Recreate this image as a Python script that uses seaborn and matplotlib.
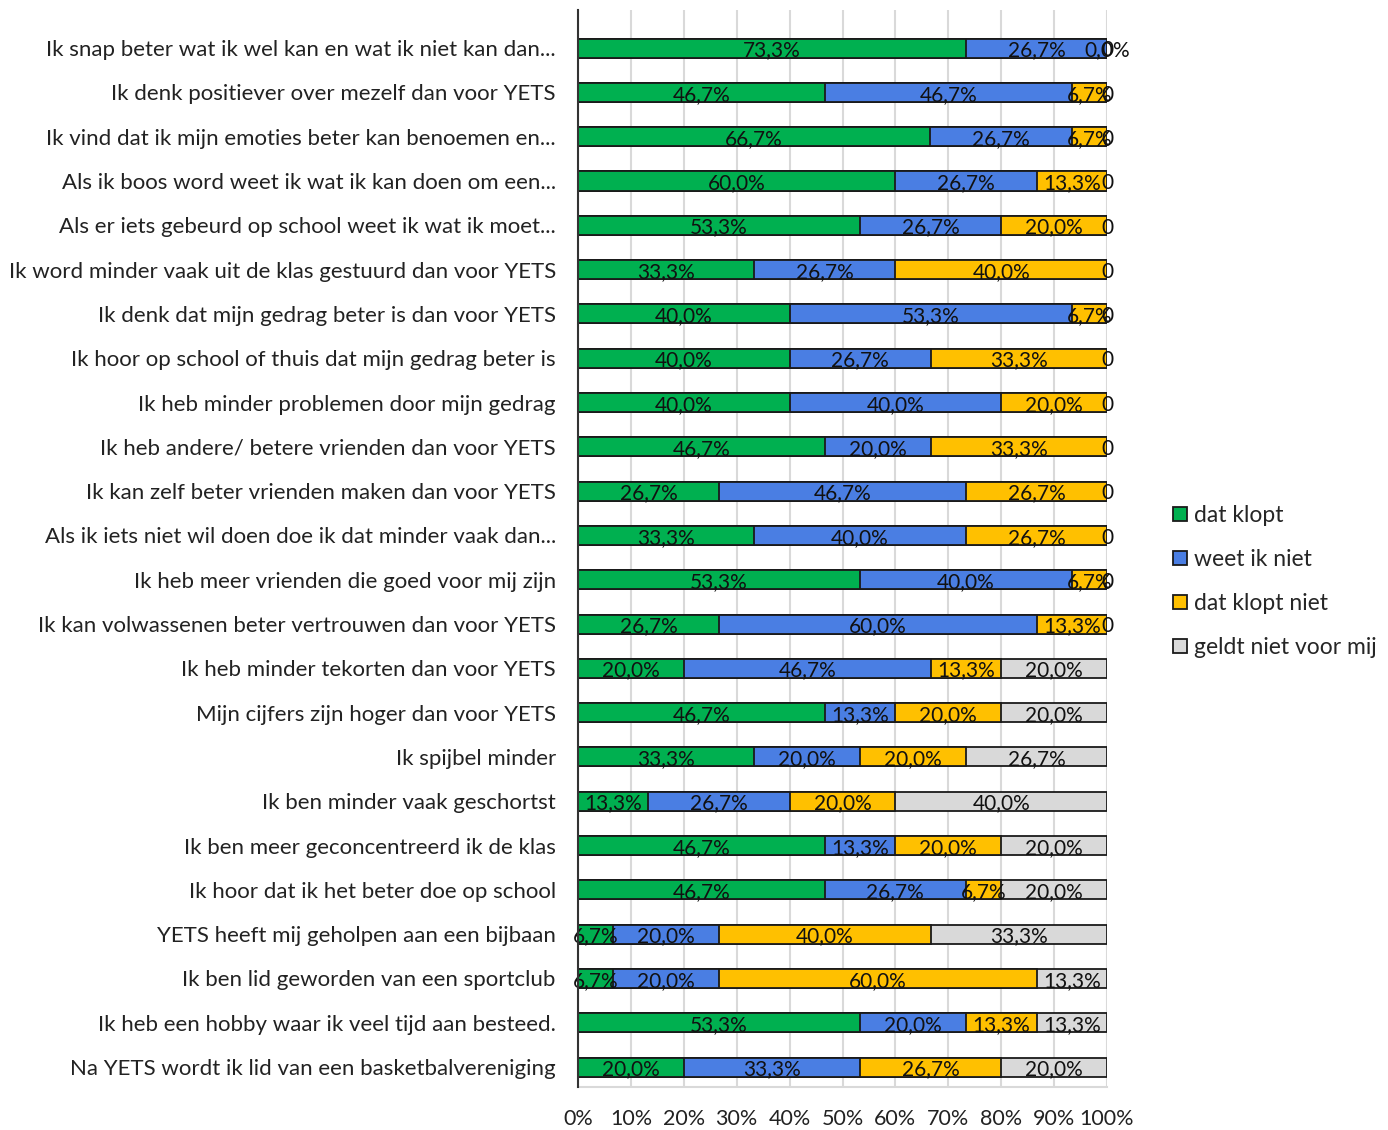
import matplotlib
matplotlib.use("Agg")
import matplotlib.pyplot as plt
import seaborn as sns
import pandas as pd
import numpy as np
from matplotlib.patches import Patch

sns.set_theme(style="white")
plt.rcParams['font.family'] = ['Lato', 'DejaVu Sans']

categories = [
    "Ik snap beter wat ik wel kan en wat ik niet kan dan...",
    "Ik denk positiever over mezelf dan voor YETS",
    "Ik vind dat ik mijn emoties beter kan benoemen en...",
    "Als ik boos word weet ik wat ik kan doen om een...",
    "Als er iets gebeurd op school weet ik wat ik moet...",
    "Ik word minder vaak uit de klas gestuurd dan voor YETS",
    "Ik denk dat mijn gedrag beter is dan voor YETS",
    "Ik hoor op school of thuis dat mijn gedrag beter is",
    "Ik heb minder problemen door mijn gedrag",
    "Ik heb andere/ betere vrienden dan voor YETS",
    "Ik kan zelf beter vrienden maken dan voor YETS",
    "Als ik iets niet wil doen doe ik dat minder vaak dan...",
    "Ik heb meer vrienden die goed voor mij zijn",
    "Ik kan volwassenen beter vertrouwen dan voor YETS",
    "Ik heb minder tekorten dan voor YETS",
    "Mijn cijfers zijn hoger dan voor YETS",
    "Ik spijbel minder",
    "Ik ben minder vaak geschortst",
    "Ik ben meer geconcentreerd ik de klas",
    "Ik hoor dat ik het beter doe op school",
    "YETS heeft mij geholpen aan een bijbaan",
    "Ik ben lid geworden van een sportclub",
    "Ik heb een hobby waar ik veel tijd aan besteed.",
    "Na YETS wordt ik lid van een basketbalvereniging",
]

dat_klopt = [73.3, 46.7, 66.7, 60.0, 53.3, 33.3, 40.0, 40.0, 40.0, 46.7, 26.7, 33.3,
             53.3, 26.7, 20.0, 46.7, 33.3, 13.3, 46.7, 46.7, 6.7, 6.7, 53.3, 20.0]
weet_ik_niet = [26.7, 46.7, 26.7, 26.7, 26.7, 26.7, 53.3, 26.7, 40.0, 20.0, 46.7, 40.0,
                40.0, 60.0, 46.7, 13.3, 20.0, 26.7, 13.3, 26.7, 20.0, 20.0, 20.0, 33.3]
dat_klopt_niet = [0.0, 6.7, 6.7, 13.3, 20.0, 40.0, 6.7, 33.3, 20.0, 33.3, 26.7, 26.7,
                  6.7, 13.3, 13.3, 20.0, 20.0, 20.0, 20.0, 6.7, 40.0, 60.0, 13.3, 26.7]
geldt_niet = [0.0, 0.0, 0.0, 0.0, 0.0, 0.0, 0.0, 0.0, 0.0, 0.0, 0.0, 0.0,
              0.0, 0.0, 20.0, 20.0, 26.7, 40.0, 20.0, 20.0, 33.3, 13.3, 13.3, 20.0]

series_names = ["dat klopt", "weet ik niet", "dat klopt niet", "geldt niet voor mij"]
colors = ["#00B050", "#4A7EE3", "#FFC000", "#D9D9D9"]
tick_labels = ["0%", "10%", "20%", "30%", "40%", "50%", "60%", "70%", "80%", "90%", "100%"]

vals = np.array([dat_klopt, weet_ik_niet, dat_klopt_niet, geldt_niet])
totals = vals.sum(axis=0)
shares = vals / totals * 100.0
cum = np.cumsum(shares, axis=0)

fig = plt.figure(figsize=(13.88, 11.30), dpi=100)
ax = fig.add_axes([578 / 1388, 1 - 1087 / 1130, (1107 - 578) / 1388, (1087 - 10) / 1130])

# draw from the largest cumulative to the smallest so segments stack
for i in range(3, -1, -1):
    df = pd.DataFrame({"cat": categories, "x": cum[i]})
    sns.barplot(data=df, x="x", y="cat", order=categories, orient="h",
                color=colors[i], saturation=1, width=0.43,
                edgecolor="#1a1a1a", linewidth=1.3, ax=ax, zorder=3)

# data labels
fs = 15
for r in range(len(categories)):
    for i in range(4):
        v = vals[i][r]
        if v == 0:
            if i == 3 and r < 14:
                ax.text(100, r + 0.05, "0", ha="center", va="center", fontsize=fs, color="#111111", zorder=5)
            elif i == 2:
                ax.text(100, r + 0.05, "0,0%", ha="center", va="center", fontsize=fs, color="#111111", zorder=5)
            continue
        center = cum[i][r] - shares[i][r] / 2
        txt = f"{v:.1f}%".replace(".", ",")
        ax.text(center, r + 0.05, txt, ha="center", va="center", fontsize=fs, color="#111111", zorder=5)

ax.set_xlim(0, 100)
ax.set_ylim(23.45, -0.86)
ax.set_xticks(np.arange(0, 101, 10))
ax.set_xticklabels(tick_labels, fontsize=15.5, color="#222222")
ax.tick_params(axis="x", length=0, pad=16)
ax.tick_params(axis="y", length=0, pad=16, labelsize=16, labelcolor="#222222")
ax.set_xlabel("")
ax.set_ylabel("")
ax.xaxis.grid(True, color="#D9D9D9", linewidth=1.5, zorder=0)
ax.yaxis.grid(False)
ax.set_axisbelow(True)
for s in ["top", "right"]:
    ax.spines[s].set_visible(False)
ax.spines["left"].set_color("#333333")
ax.spines["left"].set_linewidth(1.5)
ax.spines["left"].set_zorder(6)
ax.spines["bottom"].set_color("#D9D9D9")
ax.spines["bottom"].set_linewidth(1.5)

handles = [Patch(facecolor=c, edgecolor="#1a1a1a", linewidth=1.3, label=n)
           for c, n in zip(colors, series_names)]
fig.legend(handles=handles, loc="upper left", bbox_to_anchor=(1164 / 1388, 1 - 496 / 1130),
           frameon=False, fontsize=16.5, handlelength=0.6, handleheight=0.6,
           handletextpad=0.3, labelspacing=1.0, borderaxespad=0)

fig.savefig("out.png", dpi=100)
